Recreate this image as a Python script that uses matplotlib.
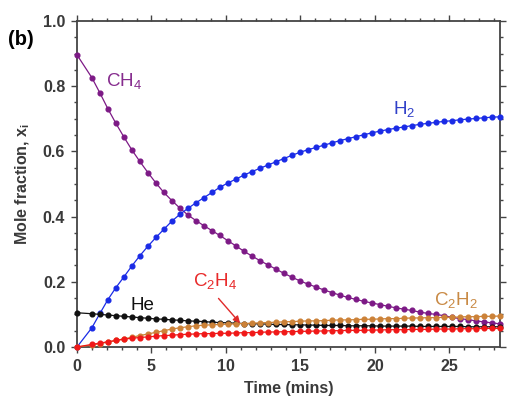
import matplotlib.pyplot as plt
from matplotlib.ticker import MultipleLocator

plt.rcParams['font.family'] = ['Liberation Sans', 'DejaVu Sans']
plt.rcParams['mathtext.fontset'] = 'custom'
plt.rcParams['mathtext.rm'] = 'Liberation Sans'
plt.rcParams['mathtext.it'] = 'Liberation Sans:italic'
plt.rcParams['mathtext.bf'] = 'Liberation Sans:bold'

# sampling times (min)
time_min = [0, 1.00, 1.54, 2.07, 2.61, 3.15, 3.69, 4.22, 4.76, 5.30,
            5.83, 6.37, 6.91, 7.44, 7.98, 8.52, 9.06, 9.59, 10.13, 10.67,
            11.20, 11.74, 12.28, 12.81, 13.35, 13.89, 14.43, 14.96, 15.50, 16.04,
            16.57, 17.11, 17.65, 18.18, 18.72, 19.26, 19.80, 20.33, 20.87, 21.41,
            21.94, 22.48, 23.02, 23.55, 24.09, 24.63, 25.17, 25.70, 26.24, 26.78,
            27.31, 27.85, 28.40]

ch4 = [0.896, 0.826, 0.779, 0.731, 0.686, 0.644, 0.604, 0.569, 0.535, 0.503,
       0.474, 0.449, 0.426, 0.405, 0.388, 0.372, 0.357, 0.342, 0.326, 0.310,
       0.294, 0.279, 0.265, 0.252, 0.239, 0.226, 0.214, 0.203, 0.193, 0.184,
       0.175, 0.167, 0.159, 0.152, 0.146, 0.140, 0.135, 0.130, 0.125, 0.120,
       0.116, 0.112, 0.107, 0.103, 0.100, 0.096, 0.091, 0.087, 0.084, 0.080,
       0.077, 0.074, 0.071]

h2 = [0.000, 0.059, 0.103, 0.145, 0.182, 0.215, 0.249, 0.280, 0.309, 0.336,
      0.361, 0.386, 0.407, 0.425, 0.442, 0.458, 0.474, 0.490, 0.503, 0.515,
      0.527, 0.538, 0.548, 0.558, 0.568, 0.578, 0.588, 0.597, 0.605, 0.612,
      0.619, 0.626, 0.633, 0.639, 0.645, 0.651, 0.657, 0.662, 0.667, 0.671,
      0.675, 0.679, 0.683, 0.686, 0.689, 0.692, 0.694, 0.697, 0.699, 0.701,
      0.703, 0.705, 0.706]

he = [0.105, 0.102, 0.100, 0.098, 0.096, 0.094, 0.092, 0.090, 0.088, 0.086,
      0.085, 0.083, 0.082, 0.080, 0.079, 0.078, 0.076, 0.075, 0.074, 0.073,
      0.072, 0.071, 0.071, 0.070, 0.069, 0.069, 0.068, 0.068, 0.067, 0.067,
      0.066, 0.066, 0.066, 0.065, 0.065, 0.065, 0.065, 0.064, 0.064, 0.064,
      0.064, 0.064, 0.063, 0.063, 0.063, 0.063, 0.063, 0.063, 0.062, 0.062,
      0.062, 0.062, 0.062]

c2h2 = [0.000, 0.006, 0.010, 0.015, 0.020, 0.025, 0.030, 0.035, 0.040, 0.045,
        0.050, 0.055, 0.059, 0.062, 0.065, 0.067, 0.068, 0.069, 0.070, 0.071,
        0.072, 0.073, 0.074, 0.075, 0.076, 0.077, 0.078, 0.079, 0.080, 0.080,
        0.081, 0.082, 0.083, 0.083, 0.084, 0.085, 0.085, 0.086, 0.087, 0.087,
        0.088, 0.089, 0.089, 0.090, 0.090, 0.091, 0.091, 0.092, 0.093, 0.093,
        0.094, 0.094, 0.095]

c2h4 = [0.000, 0.008, 0.012, 0.016, 0.020, 0.024, 0.027, 0.029, 0.031, 0.033,
        0.035, 0.036, 0.038, 0.039, 0.040, 0.041, 0.041, 0.042, 0.042, 0.043,
        0.044, 0.044, 0.045, 0.046, 0.046, 0.047, 0.047, 0.048, 0.048, 0.049,
        0.049, 0.050, 0.050, 0.051, 0.051, 0.051, 0.052, 0.052, 0.053, 0.053,
        0.053, 0.054, 0.054, 0.054, 0.055, 0.055, 0.055, 0.056, 0.056, 0.056,
        0.057, 0.057, 0.057]

series = [
    (ch4, '#7d1a86', r'CH$_\mathregular{4}$', (1.95, 0.815), '#862c8e'),
    (h2, '#1a2be6', r'H$_\mathregular{2}$', (21.2, 0.730), '#3040c8'),
    (he, '#111111', 'He', (3.6, 0.127), '#111111'),
    (c2h2, '#cc8238', r'C$_\mathregular{2}$H$_\mathregular{2}$', (24.0, 0.144), '#c98a45'),
    (c2h4, '#f01818', r'C$_\mathregular{2}$H$_\mathregular{4}$', (7.8, 0.202), '#e82a2a'),
]

fig = plt.figure(figsize=(5.26, 4.03), dpi=100)
ax = fig.add_axes([0.1464, 0.139, 0.8042, 0.8089])

for vals, col, lab, pos, tcol in series:
    ax.plot(time_min, vals, '-o', color=col, lw=0.9, ms=3.4, clip_on=False, zorder=3)
    ax.text(pos[0], pos[1], lab, color=tcol, fontsize=13.5, ha='left', va='center')

# arrow pointing at C2H4 curve
ax.annotate('', xy=(10.95, 0.073), xytext=(9.5, 0.149),
            arrowprops=dict(arrowstyle='-|>', color='#e02a2a', lw=1.0,
                            mutation_scale=10, shrinkA=0, shrinkB=0), zorder=5)

ax.set_xlim(0, 28.4)
ax.set_ylim(0, 1.0)
ax.xaxis.set_major_locator(MultipleLocator(5))
ax.xaxis.set_minor_locator(MultipleLocator(1))
ax.yaxis.set_major_locator(MultipleLocator(0.2))
ax.yaxis.set_minor_locator(MultipleLocator(0.05))
ax.yaxis.set_major_formatter(plt.FormatStrFormatter('%.1f'))

ax.tick_params(which='both', direction='out', top=True, right=True,
               labeltop=False, labelright=False, color='#444444', width=1.0)
ax.tick_params(which='major', length=4.5, labelsize=11.5, pad=4, labelcolor='#3a3a3a')
ax.tick_params(which='minor', length=2.5)
for lbl in ax.get_xticklabels() + ax.get_yticklabels():
    lbl.set_fontweight('bold')
for sp in ax.spines.values():
    sp.set_color('#444444')
    sp.set_linewidth(1.3)

ax.set_xlabel('Time (mins)', fontsize=11.5, fontweight='bold', color='#3a3a3a', labelpad=5)
ax.set_ylabel(r'Mole fraction, x$_\mathbf{i}$', fontsize=11.5, fontweight='bold',
              color='#3a3a3a', labelpad=8)

fig.text(0.015, 0.903, '(b)', fontsize=14.5, fontweight='bold', ha='left', va='center')

fig.savefig('out.png', dpi=100)
